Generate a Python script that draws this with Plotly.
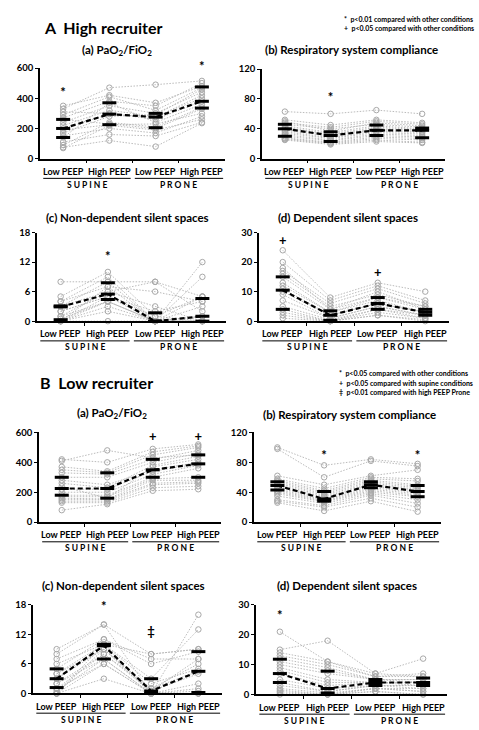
import plotly.graph_objects as go

W, H = 479, 730
FONT = "Lato"

# ---------------- DATA ----------------
conditions = ["Low PEEP", "High PEEP", "Low PEEP", "High PEEP"]
positions = ["S U P I N E", "P R O N E"]

# A  High recruiter
A_pf_LS = [350, 330, 310, 290, 270, 260, 240, 220, 200, 190, 170, 150, 140, 110, 90, 75, 70]
A_pf_HS = [420, 470, 300, 410, 380, 230, 350, 320, 295, 225, 280, 200, 370, 160, 240, 120, 220]
A_pf_LP = [370, 490, 260, 320, 350, 200, 300, 280, 275, 230, 290, 170, 240, 150, 210, 80, 190]
A_pf_HP = [480, 515, 380, 470, 500, 330, 440, 400, 420, 300, 460, 280, 360, 240, 340, 235, 260]
A_pf_q3 = [260, 370, 300, 475]
A_pf_med = [200, 295, 275, 380]
A_pf_q1 = [140, 225, 205, 335]

A_crs_LS = [63, 52, 50, 48, 46, 44, 42, 40, 38, 36, 34, 32, 30, 28, 27, 26, 25]
A_crs_HS = [60, 45, 37, 42, 40, 35, 33, 32, 30, 28, 27, 25, 24, 22, 21, 20, 19]
A_crs_LP = [65, 52, 48, 50, 46, 44, 42, 40, 39, 37, 35, 33, 31, 29, 27, 25, 23]
A_crs_HP = [60, 48, 44, 46, 42, 40, 39, 38, 36, 35, 33, 31, 29, 27, 25, 22, 21]
A_crs_q3 = [46, 36, 45, 41]
A_crs_med = [40, 31, 38, 38]
A_crs_q1 = [30, 23, 31, 28]

A_nd_LS = [8, 5, 4, 4, 3, 3, 2, 2, 1, 1, 0.5, 0, 0, 0, 0, 0, 0]
A_nd_HS = [8, 10, 9, 7, 8, 6, 5, 5, 4, 6, 4, 5, 4, 3, 2, 0, 7]
A_nd_LP = [8, 1, 0, 6, 0, 3, 0, 1, 0, 8, 0, 2, 0, 0, 0, 0, 0]
A_nd_HP = [5, 0, 12, 4, 3, 0, 1, 5, 9, 2, 0, 4, 1, 0, 0, 0, 5]
A_nd_q3 = [3.1, 7.8, 1.7, 4.6]
A_nd_med = [2.9, 5.5, 0, 1]
A_nd_q1 = [0.3, 4.4, 0, 0]

A_d_LS = [24, 20, 18, 17, 16, 15, 13, 12, 11, 10, 9, 7, 5, 4, 3, 2, 1]
A_d_HS = [8, 7, 4, 6, 5, 4, 3, 3, 2, 2, 1, 1, 0.5, 0, 0, 0, 0]
A_d_LP = [13, 12, 8, 11, 9, 10, 8, 7, 6, 6, 5, 5, 4, 4, 3, 2, 2]
A_d_HP = [10, 7, 5, 6, 5, 4, 4, 3, 3, 3, 2, 2, 2, 1, 1, 0.5, 0]
A_d_q3 = [15, 3.5, 8, 4]
A_d_med = [10.5, 2, 6, 3]
A_d_q1 = [4, 0.3, 4, 2]

# B  Low recruiter
B_pf_LS = [420, 410, 370, 350, 330, 300, 280, 260, 240, 220, 200, 180, 170, 160, 150, 140, 130, 80]
B_pf_HS = [400, 480, 340, 330, 320, 300, 250, 230, 160, 220, 200, 180, 170, 155, 150, 140, 130, 120]
B_pf_LP = [490, 430, 470, 450, 420, 400, 350, 380, 370, 340, 320, 300, 290, 280, 260, 250, 230, 210]
B_pf_HP = [520, 450, 510, 500, 480, 460, 400, 440, 420, 390, 380, 360, 300, 280, 270, 260, 240, 220]
B_pf_q3 = [300, 330, 420, 450]
B_pf_med = [225, 225, 350, 390]
B_pf_q1 = [180, 160, 300, 300]

B_crs_LS = [100, 98, 62, 58, 56, 54, 52, 50, 48, 46, 44, 42, 40, 38, 35, 30, 28, 26]
B_crs_HS = [76, 60, 50, 45, 42, 40, 38, 36, 34, 32, 30, 29, 28, 27, 25, 22, 20, 15]
B_crs_LP = [84, 82, 62, 60, 58, 56, 54, 52, 50, 48, 46, 44, 42, 40, 38, 36, 32, 28]
B_crs_HP = [78, 75, 70, 58, 55, 50, 48, 46, 44, 42, 40, 38, 36, 34, 30, 25, 20, 14]
B_crs_q3 = [54, 41, 54, 49]
B_crs_med = [49, 31, 50, 41]
B_crs_q1 = [43, 28, 46, 34]

B_nd_LS = [9, 8, 7, 6, 5, 4, 4, 3, 3, 2, 2, 1, 1, 0.5, 0, 0, 0, 0]
B_nd_HS = [14, 14, 11, 10, 11, 10, 9, 9, 10, 8, 7, 8, 6, 7, 3, 6, 10, 9]
B_nd_LP = [8, 0, 7, 8, 6, 3, 1, 0.5, 2, 1, 0, 0.5, 0, 0, 0, 0, 0, 0]
B_nd_HP = [9, 16, 7, 9, 8.5, 13, 6, 4, 5, 4.5, 2, 7, 1, 0.5, 0, 0, 0, 0]
B_nd_q3 = [5, 10, 3, 8.5]
B_nd_med = [3, 9.7, 0.5, 4.5]
B_nd_q1 = [1.2, 7, 0, 0.2]

B_d_LS = [21, 15, 14, 13, 12, 11, 10, 9, 8, 7, 5, 4, 3, 2, 1.5, 1, 0.5, 0]
B_d_HS = [11, 18, 11, 10, 9, 8, 7, 5, 4, 3, 2, 1, 1, 0.5, 0, 0, 0, 0]
B_d_LP = [7, 7, 6, 6, 5, 5, 5, 4, 4, 4, 3, 3, 3, 2, 2, 2, 1, 1]
B_d_HP = [6, 12, 7, 6, 5, 5, 4, 4, 4, 3, 3, 3, 2, 2, 1, 1, 0, 0]
B_d_q3 = [11.8, 7.8, 5, 5.5]
B_d_med = [7, 2, 4, 4]
B_d_q1 = [4, 0.5, 3, 3]

# significance marks: (condition index, y value, symbol)
A_pf_sig = [(0, 430, "*"), (3, 600, "*")]
A_crs_sig = [(1, 80, "*")]
A_nd_sig = [(1, 12.8, "*")]
A_d_sig = [(0, 27, "+"), (2, 16, "+")]
B_pf_sig = [(2, 565, "+"), (3, 565, "+")]
B_crs_sig = [(1, 88, "*"), (3, 87, "*")]
B_nd_sig = [(1, 17.5, "*"), (2, 12.3, "‡")]
B_d_sig = [(0, 26, "*")]

titles = ["(a) PaO<sub>2</sub>/FiO<sub>2</sub>", "(b) Respiratory system compliance",
          "(c) Non-dependent silent spaces", "(d) Dependent silent spaces"]
y_ticks = {"pf": [0, 200, 400, 600], "crs": [0, 40, 80, 120],
           "nd": [0, 6, 12, 18], "d": [0, 10, 20, 30]}

legend_A = ["*  p<0.01 compared with other conditions",
            "+  p<0.05 compared with other conditions"]
legend_B = ["*  p<0.05 compared with other conditions",
            "+  p<0.05 compared with supine conditions",
            "‡  p<0.01 compared with high PEEP Prone"]

# ---------------- LAYOUT (pixel boxes) ----------------
panels = [
    dict(key="pf", title=titles[0], data=(A_pf_LS, A_pf_HS, A_pf_LP, A_pf_HP), q=(A_pf_q3, A_pf_med, A_pf_q1), sig=A_pf_sig, box=(40, 225, 63, 155), tx=117, ty=45),
    dict(key="crs", title=titles[1], data=(A_crs_LS, A_crs_HS, A_crs_LP, A_crs_HP), q=(A_crs_q3, A_crs_med, A_crs_q1), sig=A_crs_sig, box=(262, 445, 64, 155), tx=351, ty=44),
    dict(key="nd", title=titles[2], data=(A_nd_LS, A_nd_HS, A_nd_LP, A_nd_HP), q=(A_nd_q3, A_nd_med, A_nd_q1), sig=A_nd_sig, box=(37, 226, 230, 320), tx=127, ty=215),
    dict(key="d", title=titles[3], data=(A_d_LS, A_d_HS, A_d_LP, A_d_HP), q=(A_d_q3, A_d_med, A_d_q1), sig=A_d_sig, box=(259, 449, 230, 320), tx=348, ty=215),
    dict(key="pf", title=titles[0], data=(B_pf_LS, B_pf_HS, B_pf_LP, B_pf_HP), q=(B_pf_q3, B_pf_med, B_pf_q1), sig=B_pf_sig, box=(39, 221, 433, 524), tx=112, ty=414),
    dict(key="crs", title=titles[1], data=(B_crs_LS, B_crs_HS, B_crs_LP, B_crs_HP), q=(B_crs_q3, B_crs_med, B_crs_q1), sig=B_crs_sig, box=(254, 441, 433, 524), tx=349, ty=415),
    dict(key="nd", title=titles[2], data=(B_nd_LS, B_nd_HS, B_nd_LP, B_nd_HP), q=(B_nd_q3, B_nd_med, B_nd_q1), sig=B_nd_sig, box=(33, 222, 608, 698), tx=123, ty=588),
    dict(key="d", title=titles[3], data=(B_d_LS, B_d_HS, B_d_LP, B_d_HP), q=(B_d_q3, B_d_med, B_d_q1), sig=B_d_sig, box=(256, 447, 608, 699), tx=347, ty=588),
]

GREY = "#b3b3b3"
fig = go.Figure()
annotations = []
shapes = []
layout = {}
idx = [0, 1, 2, 3]

for i, p in enumerate(panels, start=1):
    xa = "x" if i == 1 else f"x{i}"
    ya = "y" if i == 1 else f"y{i}"
    x0, x1, yt, yb = p["box"]
    h = yb - yt
    LS, HS, LP, HP = p["data"]
    xs, ys = [], []
    for j in range(len(LS)):
        xs += idx + [None]
        ys += [LS[j], HS[j], LP[j], HP[j], None]
    fig.add_trace(go.Scatter(x=xs, y=ys, mode="lines+markers", xaxis=xa, yaxis=ya,
                             line=dict(color=GREY, width=0.9, dash="1.5px,1.5px"),
                             marker=dict(symbol="circle-open", size=5.5, color="#a8a8a8", line=dict(width=1)),
                             cliponaxis=False, showlegend=False, hoverinfo="skip"))
    q3, med, q1 = p["q"]
    fig.add_trace(go.Scatter(x=idx, y=med, mode="lines", xaxis=xa, yaxis=ya,
                             line=dict(color="black", width=2.2, dash="5px,3px"),
                             showlegend=False, cliponaxis=False))
    fig.add_trace(go.Scatter(x=idx * 3, y=q3 + med + q1, mode="markers", xaxis=xa, yaxis=ya,
                             marker=dict(symbol="line-ew", size=10, color="black",
                                         line=dict(width=3, color="black")),
                             showlegend=False, cliponaxis=False))
    fig.add_trace(go.Scatter(x=[s[0] for s in p["sig"]], y=[s[1] for s in p["sig"]],
                             text=[s[2] for s in p["sig"]], mode="text", xaxis=xa, yaxis=ya,
                             textfont=dict(family=FONT, size=13, color="black", weight="bold"),
                             showlegend=False, cliponaxis=False))
    ticks = y_ticks[p["key"]]
    sfx = "" if i == 1 else str(i)
    layout["xaxis" + sfx] = dict(domain=[x0 / W, x1 / W], anchor=ya, range=[-0.5, 3.5],
                                 showline=True, linecolor="black", linewidth=1.5,
                                 tickvals=[0.5, 1.5, 2.5], showticklabels=False,
                                 ticks="outside", ticklen=3, tickcolor="black", tickwidth=1.2,
                                 showgrid=False, zeroline=False, fixedrange=True)
    layout["yaxis" + sfx] = dict(domain=[1 - yb / H, 1 - yt / H], anchor=xa,
                                 range=[0, ticks[-1]], tickvals=ticks,
                                 showline=True, linecolor="black", linewidth=1.5,
                                 ticks="outside", ticklen=3, tickcolor="black", tickwidth=1.2,
                                 tickfont=dict(family=FONT, size=9.5, color="black", weight="bold"),
                                 showgrid=False, zeroline=False, fixedrange=True)
    # condition labels
    for k, c in enumerate(conditions):
        annotations.append(dict(x=k, y=-13 / h, xref=xa, yref=ya + " domain", text=c,
                                showarrow=False, xanchor="center", yanchor="middle",
                                font=dict(family=FONT, size=9, color="black", weight="bold")))
    for (a, b), name in zip([(-0.43, 1.46), (1.55, 3.46)], positions):
        shapes.append(dict(type="line", xref=xa, yref=ya + " domain", x0=a, x1=b,
                           y0=-20 / h, y1=-20 / h, line=dict(color="black", width=1)))
        annotations.append(dict(x=(a + b) / 2, y=-26.5 / h, xref=xa, yref=ya + " domain", text=name,
                                showarrow=False, xanchor="center", yanchor="middle",
                                font=dict(family=FONT, size=8.5, color="black", weight="bold")))
    annotations.append(dict(x=p["tx"] / W, y=1 - p["ty"] / H, xref="paper", yref="paper",
                            text=p["title"], showarrow=False, xanchor="center", yanchor="middle",
                            font=dict(family=FONT, size=11.5, color="black", weight="bold")))

# Section headers
annotations.append(dict(x=42 / W, y=1 - 22 / H, xref="paper", yref="paper", text="A  High recruiter",
                        showarrow=False, xanchor="left", yanchor="middle",
                        font=dict(family=FONT, size=16, color="black", weight="bold")))
annotations.append(dict(x=38 / W, y=1 - 382 / H, xref="paper", yref="paper", text="B  Low recruiter",
                        showarrow=False, xanchor="left", yanchor="middle",
                        font=dict(family=FONT, size=16, color="black", weight="bold")))
for k, t in enumerate(legend_A):
    annotations.append(dict(x=342 / W, y=1 - (13 + 9.5 * k) / H, xref="paper", yref="paper", text=t,
                            showarrow=False, xanchor="left", yanchor="middle",
                            font=dict(family=FONT, size=7, color="black", weight="bold")))
for k, t in enumerate(legend_B):
    annotations.append(dict(x=337 / W, y=1 - (373 + 9.5 * k) / H, xref="paper", yref="paper", text=t,
                            showarrow=False, xanchor="left", yanchor="middle",
                            font=dict(family=FONT, size=7, color="black", weight="bold")))

fig.update_layout(width=W, height=H, margin=dict(l=0, r=0, t=0, b=0),
                  paper_bgcolor="white", plot_bgcolor="white",
                  annotations=annotations, shapes=shapes, showlegend=False,
                  font=dict(family=FONT), **layout)
fig.write_html("out.html", config={"displayModeBar": False},
               post_script="document.body.style.margin='0px';document.body.style.overflow='hidden';")
